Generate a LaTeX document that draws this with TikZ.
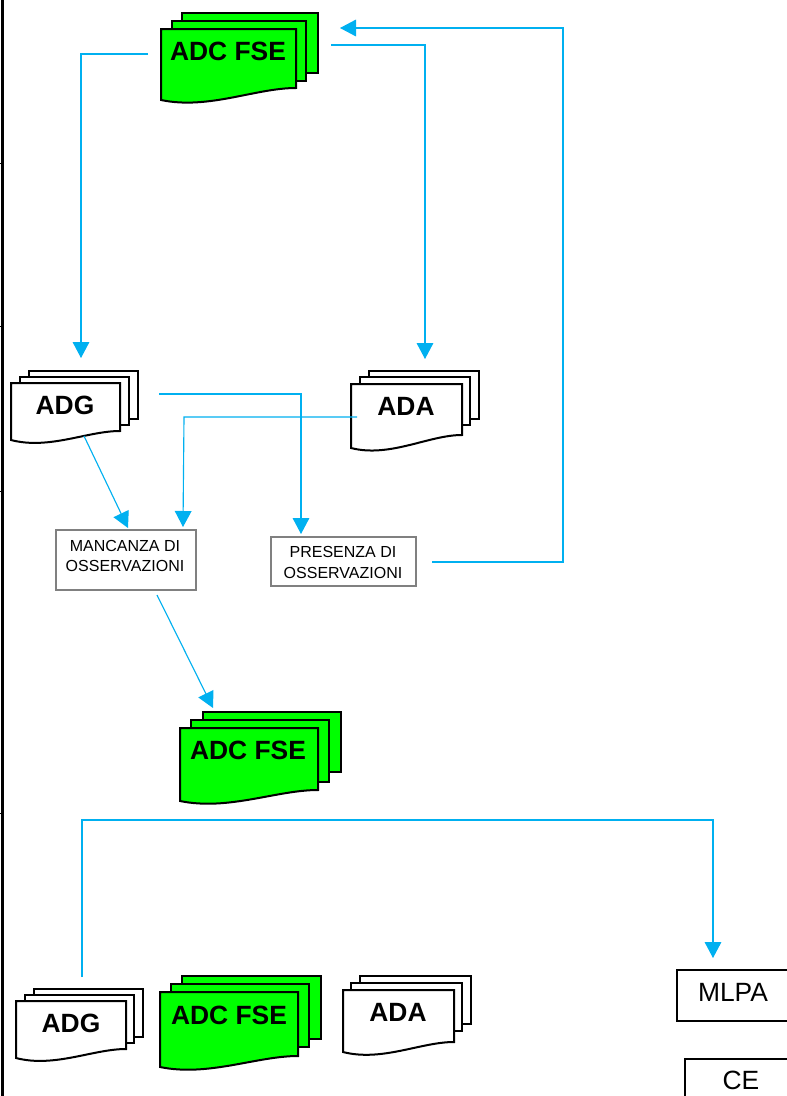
\documentclass[tikz,border=0pt]{standalone}
\usepackage{fontspec}
\setmainfont{Liberation Sans}
\usetikzlibrary{arrows.meta}
\definecolor{flowcyan}{HTML}{00B0F0}
\definecolor{docgreen}{HTML}{00FF00}
\definecolor{boxgray}{HTML}{808080}
\tikzset{
  x=0.75pt,y=-0.75pt,
  page/.style={draw=black,line width=1.5pt,line join=miter},
  flow/.style={draw=flowcyan,line width=0.85pt,-{Triangle[length=12pt,width=12.5pt]}},
  doclabel/.style={font=\fontsize{19.8}{22}\selectfont\bfseries,inner sep=0pt},
  grayBox/.style={draw=boxgray,line width=1.5pt,fill=white,inner sep=0pt},
  grayLabel/.style={inner sep=0pt,align=center,font=\fontsize{12}{15.3}\selectfont},
  blackBox/.style={draw=black,line width=1.2pt,fill=white,inner sep=0pt},
  boxlabel/.style={font=\fontsize{19.8}{22}\selectfont,inner sep=0pt},
  rule/.style={draw=black,line width=1.6pt},
}
% fill, x, y, width, left height, right height
\newcommand{\docpage}[6]{%
  \path[page,fill=#1] (#2,#3) -- ++(#4,0) -- ++(0,#6)
    .. controls +(-0.30*#4,0) and +(0.35*#4,10) .. (#2,#3+#5) -- cycle;}
% fill, x, y, width, height
\newcommand{\backpage}[5]{%
  \path[page,fill=#1] (#2,#3) rectangle ++(#4,#5);}
\begin{document}
\begin{tikzpicture}
\clip (0,0) rectangle (787,1096);
\fill[white] (0,0) rectangle (787,1096);
% left margin rule
\coordinate (ruleTop) at (2.5,0);
\coordinate (ruleBottom) at (2.5,1096);
\draw[rule] (ruleTop) -- (ruleBottom);
\foreach \yy in {163,326,491,813}{\draw[black,line width=0.75pt] (0,\yy) -- (2,\yy);}

% ADC FSE top
\backpage{docgreen}{182}{13}{136}{60}
\backpage{docgreen}{172}{21}{134}{60}
\docpage{docgreen}{161}{29}{135}{71}{59}
\node[doclabel] (adcTop) at (228,51) {ADC FSE};
% ADG
\backpage{white}{28.5}{371}{109.5}{48}
\backpage{white}{20}{377}{108.5}{48}
\docpage{white}{11}{383}{109}{57}{48}
\node[doclabel] (adgMid) at (65,405) {ADG};
% ADA
\backpage{white}{369}{371}{110}{48}
\backpage{white}{360}{377}{110}{48}
\docpage{white}{351}{384}{111}{64}{51}
\node[doclabel] (adaMid) at (406,406) {ADA};
% ADC FSE middle
\backpage{docgreen}{203}{712}{138}{60}
\backpage{docgreen}{191}{720}{138}{62}
\docpage{docgreen}{180}{728}{138}{73}{62}
\node[doclabel] (adcMid) at (248,750) {ADC FSE};
% ADG bottom
\backpage{white}{34}{989}{109}{48}
\backpage{white}{25}{995}{109}{48}
\docpage{white}{16}{1001}{110}{57}{48}
\node[doclabel] (adgBot) at (71,1023) {ADG};
% ADC FSE bottom
\backpage{docgreen}{182}{976}{139}{63}
\backpage{docgreen}{171}{984}{138}{63}
\docpage{docgreen}{160}{992}{138}{75}{64}
\node[doclabel] (adcBot) at (229,1015) {ADC FSE};
% ADA bottom
\backpage{white}{360}{976}{111}{48}
\backpage{white}{351}{983}{111}{48}
\docpage{white}{343}{990}{111}{62}{52}
\node[doclabel] (adaBot) at (398,1012) {ADA};

% grey boxes
\node[grayBox,minimum width=105pt,minimum height=45pt] (mancanza) at (125.5,560) {};
\node[grayLabel] (mancanzaText) at (125,556) {MANCANZA DI\\OSSERVAZIONI};
\node[grayBox,minimum width=108.75pt,minimum height=36.75pt] (presenza) at (343.5,561.5) {};
\node[grayLabel] (presenzaText) at (343,562.5) {PRESENZA DI\\OSSERVAZIONI};
% black boxes
\draw[blackBox] (677,970) rectangle (800,1021);
\node[boxlabel] (mlpa) at (733,992) {MLPA};
\draw[blackBox] (685,1059) rectangle (800,1110);
\node[boxlabel] (ce) at (741,1080) {CE};

% connector ends
\coordinate (a1) at (148,54);  \coordinate (a2) at (81,358);
\coordinate (b1) at (331,45);  \coordinate (b2) at (425,359);
\coordinate (c1) at (432,562); \coordinate (c2) at (563,562); \coordinate (c3) at (563,28); \coordinate (c4) at (340,28);
\coordinate (d1) at (159,394); \coordinate (d2) at (301,534);
\coordinate (e1) at (357,417); \coordinate (e2) at (184,417); \coordinate (e3) at (183,527);
\coordinate (f1) at (84,436);  \coordinate (f2) at (128,528);
\coordinate (g1) at (157,595); \coordinate (g2) at (213,708);
\coordinate (h1) at (82,977);  \coordinate (h2) at (82,820); \coordinate (h3) at (713,820); \coordinate (h4) at (713,958);

\draw[flow] (a1) -| (a2);
\draw[flow] (b1) -| (b2);
\draw[flow] (c1) -- (c2) -- (c3) -- (c4);
\draw[flow] (d1) -| (d2);
\draw[flow] (e1) -- (e2) -- (e3);
\draw[flow] (f1) -- (f2);
\draw[flow] (g1) -- (g2);
\draw[flow] (h1) -- (h2) -- (h3) -- (h4);
\end{tikzpicture}
\end{document}
